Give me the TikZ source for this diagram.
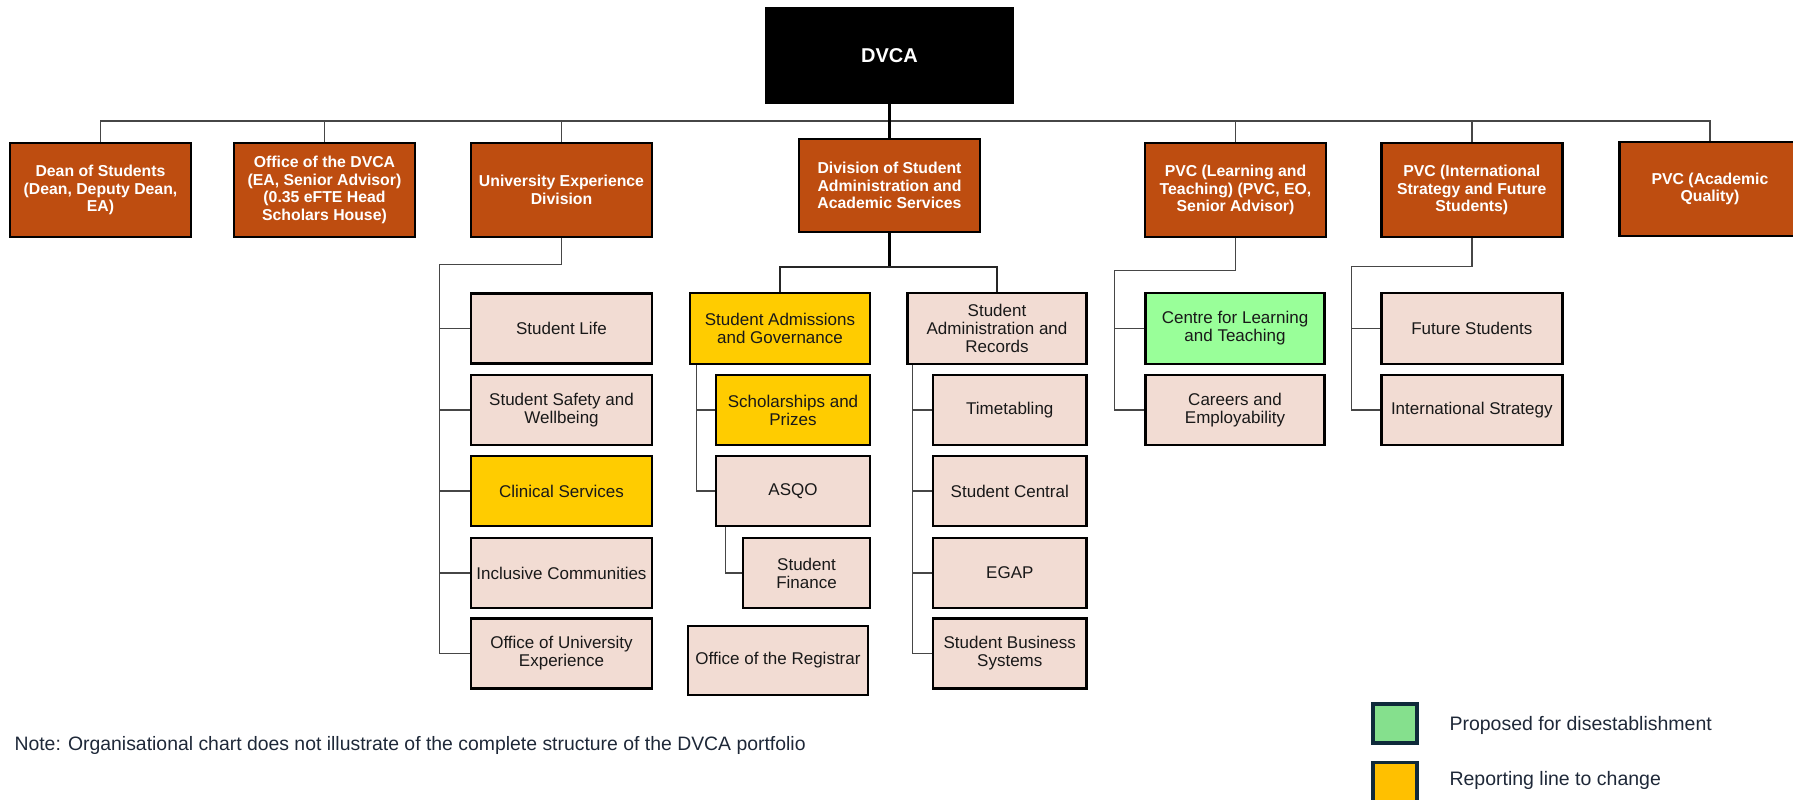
\documentclass[tikz,border=0pt]{standalone}
\usepackage{fontspec}
\setmainfont{Liberation Sans}
\definecolor{burnt}{RGB}{190,77,16}
\definecolor{blush}{RGB}{242,220,211}
\definecolor{amber}{RGB}{255,204,0}
\definecolor{mint}{RGB}{153,255,153}
\definecolor{leggreen}{RGB}{133,224,141}
\definecolor{legamber}{RGB}{255,192,0}
\definecolor{navy}{RGB}{15,42,58}
\definecolor{inkgray}{RGB}{70,70,70}
\definecolor{notetext}{RGB}{30,40,56}
\begin{document}
\begin{tikzpicture}[x=1pt,y=-1pt,
  box/.style={rectangle, draw=black, line width=2.6pt, inner sep=0pt,
    align=center, minimum width=181pt, minimum height=94pt},
  headbox/.style={box, fill=burnt, text=white,
    font=\fontsize{15.8}{17.5}\selectfont\bfseries},
  unitbox/.style={box, fill=blush, text=black!90,
    minimum height=70pt, font=\fontsize{17}{18}\selectfont},
  movebox/.style={unitbox, fill=amber},
  closebox/.style={unitbox, fill=mint},
  conn/.style={draw=inkgray, line width=1.4pt},
  trunk/.style={draw=black, line width=2.4pt},
  legsq/.style={rectangle, draw=navy, line width=3.6pt, inner sep=0pt,
    minimum width=44pt, minimum height=39pt},
  legtext/.style={anchor=base west, text=notetext,
    font=\fontsize{19.5}{22}\selectfont},
]
\useasboundingbox (0,0) rectangle (1793,800);

% top of the portfolio
\node[box, fill=black, text=white, minimum width=247pt, minimum height=95pt,
  font=\fontsize{20}{24}\selectfont\bfseries] (dvca) at (889.5,55.5) {DVCA};

% direct reports
\node[headbox] (dean)  at (100.5,190) {Dean of Students\\(Dean, Deputy Dean,\\EA)};
\node[headbox] (odvca) at (324.5,190) {Office of the DVCA\\(EA, Senior Advisor)\\(0.35 eFTE Head\\Scholars House)};
\node[headbox] (ued)   at (561.5,190) {University Experience\\Division};
\node[headbox, minimum height=93pt] (div) at (889.5,185.5) {Division of Student\\Administration and\\Academic Services};
\node[headbox] (pvclt) at (1235.5,190) {PVC (Learning and\\Teaching) (PVC, EO,\\Senior Advisor)};
\node[headbox] (pvcis) at (1471.8,190) {PVC (International\\Strategy and Future\\Students)};
\node[headbox] (pvcaq) at (1710,189) {PVC (Academic\\Quality)};

% University Experience Division units
\node[unitbox]  (sl)  at (561.5,328.5) {Student Life};
\node[unitbox]  (ssw) at (561.5,410)   {Student Safety and\\Wellbeing};
\node[movebox]  (cs)  at (561.5,491)   {Clinical Services};
\node[unitbox]  (ic)  at (561.5,573)   {Inclusive Communities};
\node[unitbox]  (oue) at (561.5,653.5) {Office of University\\Experience};

% Student Admissions and Governance branch
\node[movebox, minimum width=180pt, minimum height=71pt] (sag) at (780,328.5) {Student Admissions\\and Governance};
\node[movebox, minimum width=154pt] (sp)   at (793,410)   {Scholarships and\\Prizes};
\node[unitbox, minimum width=154pt] (asqo) at (793,491)   {ASQO};
\node[unitbox, minimum width=127pt] (sf)   at (806.5,573) {Student\\Finance};
\node[unitbox, minimum width=180pt, minimum height=69pt] (reg) at (778,660.5) {Office of the Registrar};

% Student Administration and Records branch
\node[unitbox, minimum width=179pt, minimum height=71pt] (sar) at (997,328.5) {Student\\Administration and\\Records};
\node[unitbox, minimum width=153.5pt] (tt)   at (1009.8,410)   {Timetabling};
\node[unitbox, minimum width=153.5pt] (sc)   at (1009.8,491)   {Student Central};
\node[unitbox, minimum width=153.5pt] (egap) at (1009.8,573)   {EGAP};
\node[unitbox, minimum width=153.5pt] (sbs)  at (1009.8,653.5) {Student Business\\Systems};

% PVC (Learning and Teaching) units
\node[closebox, minimum width=179pt, minimum height=71pt] (clt) at (1235,328.5) {Centre for Learning\\and Teaching};
\node[unitbox, minimum width=179pt] (car) at (1235,410) {Careers and\\Employability};

% PVC (International Strategy and Future Students) units
\node[unitbox, minimum height=71pt] (fs) at (1471.8,328.5) {Future Students};
\node[unitbox] (is) at (1471.8,410) {International Strategy};

% reporting lines from the DVCA
\coordinate (bus) at (0,121);
\draw[conn] (dean.north) -- (dean.north |- bus) -- (pvcaq.north |- bus) -- (pvcaq.north);
\foreach \n in {odvca,ued,pvclt,pvcis}
  \draw[conn] (\n.north) -- (\n.north |- bus);
\draw[trunk] (dvca.south) -- (div.north);

% Division of Student Administration and Academic Services
\draw[trunk] (div.south) -- ++(0,33.5) coordinate (dsplit);
\draw[conn, line width=1.8pt, draw=black!85] (sag.north) |- (dsplit) -| (sar.north);
\draw[conn] ([xshift=8pt]sag.south west) |- (asqo.west);
\draw[conn] ([xshift=8pt]sag.south west |- sp.west) -- (sp.west);
\draw[conn] ([xshift=11pt]asqo.south west) |- (sf.west);
\draw[conn] ([xshift=6.5pt]sar.south west) |- (sbs.west);
\foreach \n in {tt,sc,egap}
  \draw[conn] ([xshift=6.5pt]sar.south west |- \n.west) -- (\n.west);

% University Experience Division
\draw[conn] (ued.south) -- ++(0,26) -| ([xshift=-30pt]oue.west) -- (oue.west);
\foreach \n in {sl,ssw,cs,ic}
  \draw[conn] ([xshift=-30pt]\n.west) -- (\n.west);

% PVC (Learning and Teaching)
\draw[conn] (pvclt.south) -- ++(0,32) -| ([xshift=-29.5pt]car.west) -- (car.west);
\draw[conn] ([xshift=-29.5pt]clt.west) -- (clt.west);

% PVC (International Strategy and Future Students)
\draw[conn] (pvcis.south) -- ++(0,28) -| ([xshift=-28.5pt]is.west) -- (is.west);
\draw[conn] ([xshift=-28.5pt]fs.west) -- (fs.west);

% legend and note
\node[legsq, fill=leggreen] (kgreen) at (1395,723.5) {};
\node[legsq, fill=legamber] (kamber) at (1395,782) {};
\node[legtext] (tgreen) at (1446,730) {Proposed for disestablishment};
\node[legtext] (tamber) at (1446,785) {Reporting line to change};
\node[anchor=base west, text=notetext, font=\fontsize{19.4}{22}\selectfont] (note) at (11,750)
  {Note: Organisational chart does not illustrate of the complete structure of the DVCA portfolio};
\end{tikzpicture}
\end{document}
